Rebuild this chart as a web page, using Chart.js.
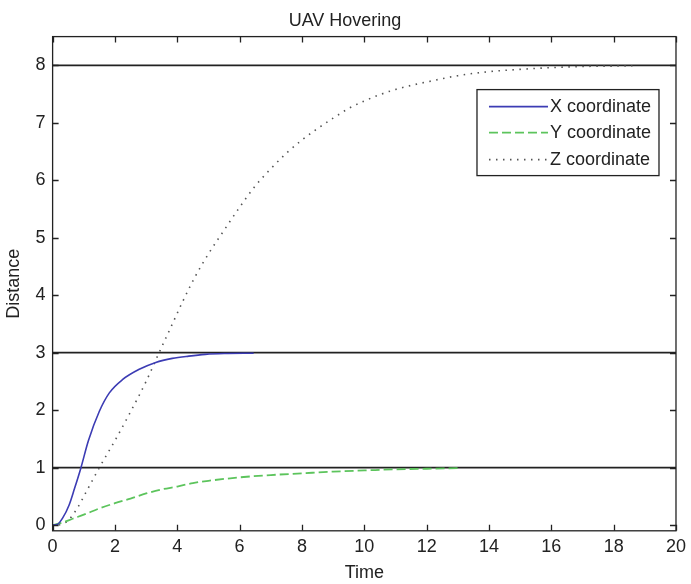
<!DOCTYPE html>
<html>
<head>
<meta charset="utf-8">
<script src="https://cdn.jsdelivr.net/npm/chart.js@4/dist/chart.umd.min.js"></script>
<style>
  html, body { margin: 0; padding: 0; background: #fff; }
  #wrap { width: 691px; height: 584px; }
</style>
</head>
<body>
<div id="wrap"><canvas id="uavChart"></canvas></div>
<script>
const xTime = [0, 0.15, 0.32, 0.53, 0.7, 0.9, 1.15, 1.5, 1.82, 2.24, 2.78, 3.31, 3.84, 4.37, 4.9, 5.5, 6.45];
const xCoord = [0, 0.01, 0.12, 0.35, 0.63, 0.98, 1.47, 1.98, 2.3, 2.53, 2.71, 2.83, 2.9, 2.94, 2.97, 2.985, 2.99];

const yTime = [0, 0.3, 0.64, 1, 1.5, 2, 2.5, 3, 3.5, 4, 4.5, 5, 6, 7, 8, 9, 10, 11, 12, 13];
const yCoord = [0, 0.04, 0.11, 0.18, 0.29, 0.38, 0.46, 0.55, 0.62, 0.67, 0.73, 0.77, 0.83, 0.87, 0.9, 0.93, 0.95, 0.97, 0.98, 0.99];

const zTime = [0.2, 0.5, 0.8, 1.1, 1.5, 2, 2.5, 3, 3.4, 3.8, 4.2, 4.6, 5, 5.5, 6, 6.5, 7, 7.5, 8, 8.5, 9, 9.5, 10, 10.5, 11, 11.5, 12, 13, 14, 15, 16, 17, 18.6];
const zCoord = [0, 0.08, 0.3, 0.6, 1, 1.47, 1.97, 2.5, 2.98, 3.45, 3.92, 4.35, 4.72, 5.13, 5.53, 5.9, 6.2, 6.47, 6.7, 6.9, 7.08, 7.25, 7.38, 7.49, 7.58, 7.65, 7.71, 7.82, 7.89, 7.93, 7.96, 7.98, 7.99];

const refLevels = [1, 3, 8];
const timeTicks = [0, 2, 4, 6, 8, 10, 12, 14, 16, 18, 20];
const distTicks = [0, 1, 2, 3, 4, 5, 6, 7, 8];

const FONT = "'Liberation Sans', Arial, sans-serif";
const INK = '#222';

const pts = (xs, ys) => xs.map((x, i) => ({ x: x, y: ys[i] }));

const datasets = [
    { label: 'X coordinate', data: pts(xTime, xCoord), borderColor: '#3c3cb4', borderWidth: 1.6 },
    { label: 'Y coordinate', data: pts(yTime, yCoord), borderColor: '#5cc45c', borderWidth: 1.8, borderDash: [9, 4] },
    { label: 'Z coordinate', data: pts(zTime, zCoord), borderColor: '#555', borderWidth: 1.6, borderDash: [1.5, 5.5] }
].map(d => Object.assign(d, { pointRadius: 0, cubicInterpolationMode: 'monotone', fill: false }));

refLevels.forEach(v => {
    datasets.push({
        label: 'ref',
        data: [{ x: 0, y: v }, { x: 20, y: v }],
        borderColor: INK, borderWidth: 1.6, pointRadius: 0, fill: false
    });
});

// box + inward tick marks, matlab style
const frame = {
    id: 'frame',
    afterDatasetsDraw(chart) {
        const { ctx, chartArea: a, scales } = chart;
        ctx.save();
        ctx.strokeStyle = INK;
        ctx.lineWidth = 1.3;
        ctx.strokeRect(a.left, a.top, a.right - a.left, a.bottom - a.top);
        ctx.beginPath();
        scales.x.ticks.forEach(t => {
            const px = Math.round(scales.x.getPixelForValue(t.value)) + 0.5;
            ctx.moveTo(px, a.bottom); ctx.lineTo(px, a.bottom - 6);
            ctx.moveTo(px, a.top); ctx.lineTo(px, a.top + 6);
        });
        scales.y.ticks.forEach(t => {
            const py = Math.round(scales.y.getPixelForValue(t.value)) + 0.5;
            ctx.moveTo(a.left, py); ctx.lineTo(a.left + 6, py);
            ctx.moveTo(a.right, py); ctx.lineTo(a.right - 6, py);
        });
        ctx.stroke();
        ctx.restore();
    }
};

// legend box drawn inside the plot, top right
const boxLegend = {
    id: 'boxLegend',
    afterDraw(chart) {
        const { ctx, chartArea: a } = chart;
        const w = 182, h = 86;
        const left = a.right - 17 - w, top = a.top + 53;
        ctx.save();
        ctx.fillStyle = '#fff';
        ctx.fillRect(left, top, w, h);
        ctx.strokeStyle = INK;
        ctx.lineWidth = 1.3;
        ctx.strokeRect(left, top, w, h);
        ctx.font = '18px ' + FONT;
        ctx.textBaseline = 'middle';
        const rows = [17, 43, 70];
        chart.data.datasets.slice(0, 3).forEach((d, i) => {
            const y = top + rows[i];
            ctx.strokeStyle = d.borderColor;
            ctx.lineWidth = d.borderWidth;
            ctx.setLineDash(d.borderDash || []);
            ctx.beginPath();
            ctx.moveTo(left + 12, y);
            ctx.lineTo(left + 71, y);
            ctx.stroke();
            ctx.setLineDash([]);
            ctx.fillStyle = INK;
            ctx.fillText(d.label, left + 73, y);
        });
        ctx.restore();
    }
};

new Chart(document.getElementById('uavChart').getContext('2d'), {
    type: 'line',
    data: { datasets: datasets },
    options: {
        responsive: true,
        maintainAspectRatio: false,
        animation: false,
        layout: { padding: { left: 0, right: 1, top: 0, bottom: 0 } },
        plugins: {
            legend: { display: false },
            tooltip: { enabled: false },
            title: {
                display: true,
                text: 'UAV Hovering',
                color: INK,
                font: { family: FONT, size: 18, weight: 'normal' },
                padding: { top: 10, bottom: 5 }
            }
        },
        scales: {
            x: {
                type: 'linear',
                min: 0, max: 20,
                afterBuildTicks: s => { s.ticks = timeTicks.map(v => ({ value: v })); },
                grid: { display: false, drawTicks: false },
                border: { display: false },
                ticks: { color: INK, padding: 5, maxRotation: 0, font: { family: FONT, size: 18 } },
                title: { display: true, text: 'Time', color: INK, padding: { top: 0, bottom: 0 }, font: { family: FONT, size: 18 } }
            },
            y: {
                type: 'linear',
                min: -0.1, max: 8.5,
                afterBuildTicks: s => { s.ticks = distTicks.map(v => ({ value: v })); },
                grid: { display: false, drawTicks: false },
                border: { display: false },
                ticks: { color: INK, padding: 7, font: { family: FONT, size: 18 } },
                title: { display: true, text: 'Distance', color: INK, padding: { top: 3, bottom: 4 }, font: { family: FONT, size: 18 } }
            }
        }
    },
    plugins: [frame, boxLegend]
});
</script>
</body>
</html>
